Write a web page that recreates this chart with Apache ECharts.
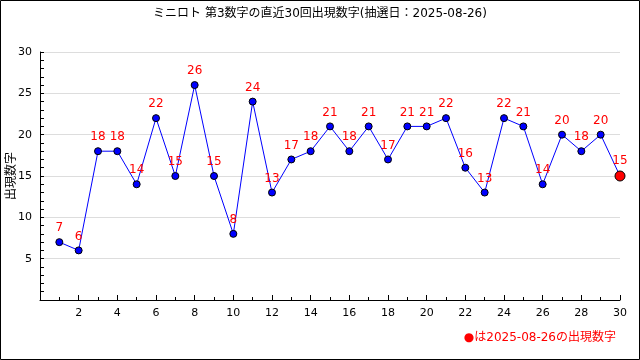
<!DOCTYPE html>
<html><head><meta charset="utf-8">
<script src="https://cdn.jsdelivr.net/npm/echarts@6/dist/echarts.min.js"></script>
<style>html,body{margin:0;padding:0;background:#fff}#c{width:640px;height:360px}</style>
</head><body><div id="c"></div>
<script>
const titleText = 'ミニロト 第3数字の直近30回出現数字(抽選日：2025-08-26)';
const yName = '出現数字';
const noteText = '●は2025-08-26の出現数字';
const draws = [1,2,3,4,5,6,7,8,9,10,11,12,13,14,15,16,17,18,19,20,21,22,23,24,25,26,27,28,29,30];
const values = [7,6,18,18,14,22,15,26,15,8,24,13,17,18,21,18,21,17,21,21,22,16,13,22,21,14,20,18,20,15];
const FONT = '"DejaVu Sans", "Noto Sans CJK JP", sans-serif';

const data = draws.map((d, i) => {
  const item = { value: [d, values[i]] };
  if (i === draws.length - 1) {
    item.symbolSize = 10;
    item.itemStyle = { color: '#ff0000', borderColor: '#000', borderWidth: 1 };
  }
  return item;
});

const chart = echarts.init(document.getElementById('c'));
chart.setOption({
  animation: false,
  backgroundColor: '#fff',
  title: { text: titleText, left: 'center', top: 3, textStyle: { fontFamily: FONT, fontSize: 12, fontWeight: 'normal', color: '#000' } },
  grid: { left: 40, right: 20, top: 52, bottom: 60, containLabel: false, outerBoundsMode: 'none' },
  xAxis: {
    type: 'value', min: 0, max: 30, interval: 2,
    axisLine: { lineStyle: { color: '#000' } },
    axisTick: { show: true, inside: true, length: 5, lineStyle: { color: '#000' } },
    minorTick: { show: true, splitNumber: 2, length: 3, lineStyle: { color: '#000' } },
    splitLine: { show: false },
    axisLabel: { color: '#000', fontFamily: FONT, fontSize: 11, margin: 8, formatter: v => v === 0 ? '' : String(v) }
  },
  yAxis: {
    type: 'value', min: 0, max: 30, interval: 5,
    axisLine: { show: true, lineStyle: { color: '#000' } },
    axisTick: { show: true, inside: true, length: 4, lineStyle: { color: '#000' } },
    minorTick: { show: true, splitNumber: 5, length: 4, lineStyle: { color: '#000' } },
    splitLine: { show: true, lineStyle: { color: '#dddddd' } },
    axisLabel: { color: '#000', fontFamily: FONT, fontSize: 11, margin: 8, formatter: v => v === 0 ? '' : String(v) }
  },
  series: [{
    type: 'line', data: data,
    symbol: 'circle', symbolSize: 7,
    lineStyle: { color: '#0000ff', width: 1 },
    itemStyle: { color: '#0000ff', borderColor: '#000', borderWidth: 1 },
    label: { show: true, position: 'top', distance: 4, color: '#ff0000', fontFamily: FONT, fontSize: 12 }
  }],
  graphic: [
    { type: 'rect', shape: { x: 0.5, y: 0.5, width: 639, height: 359 }, style: { fill: 'none', stroke: '#000', lineWidth: 1 }, silent: true },
    { type: 'text', x: 12, y: 176, rotation: Math.PI / 2, style: { text: yName, fill: '#000', font: '12px ' + FONT, align: 'center', verticalAlign: 'middle' } },
    { type: 'text', right: 24, top: 332, style: { text: noteText, fill: '#ff0000', font: '12px ' + FONT } }
  ]
});
</script></body></html>
